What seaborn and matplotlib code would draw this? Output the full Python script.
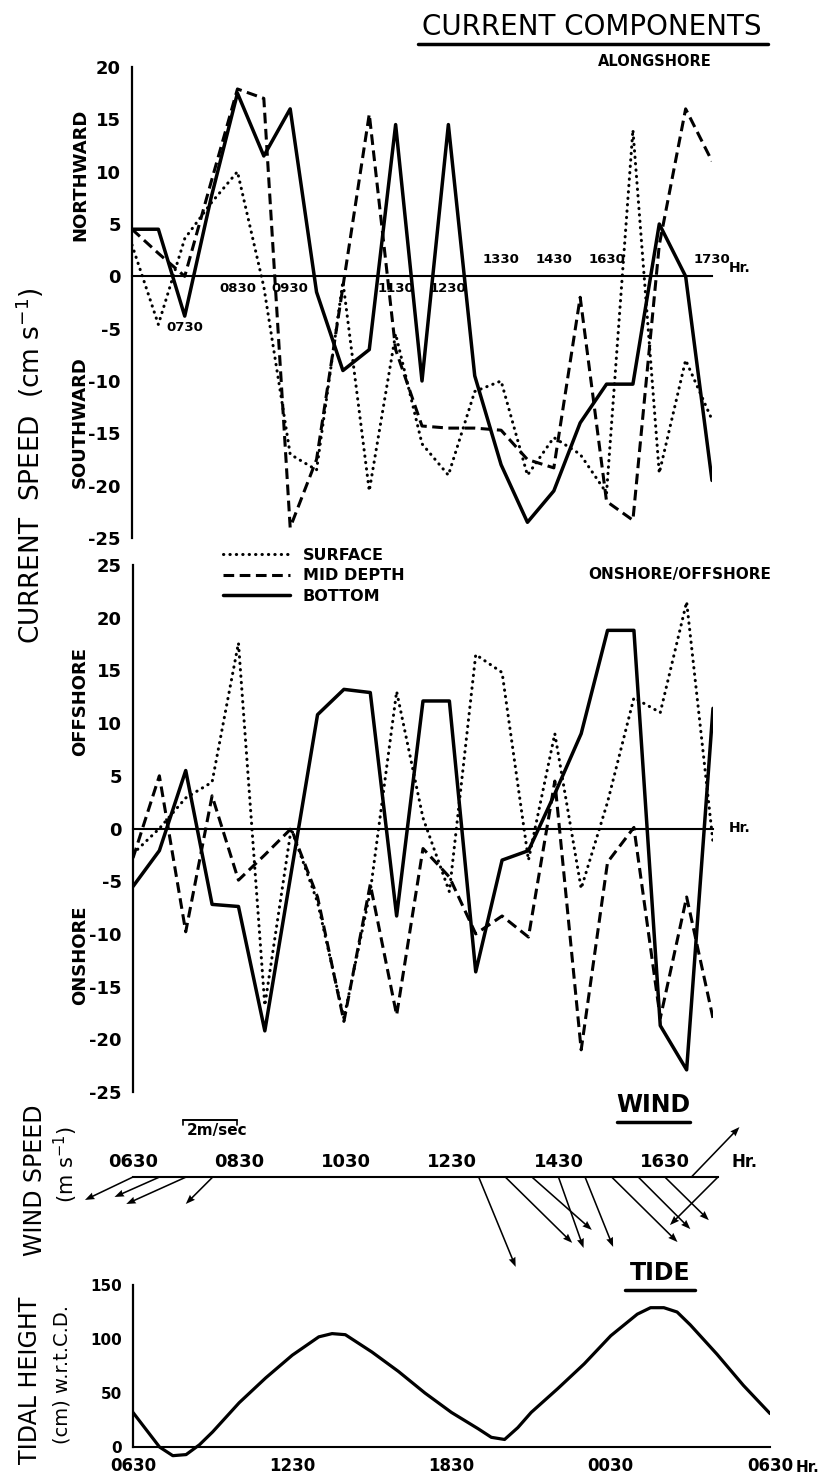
import matplotlib
matplotlib.use("Agg")
import matplotlib.pyplot as plt
import seaborn as sns
import numpy as np
import pandas as pd
from matplotlib.lines import Line2D

# ---- data ----
hours = [6.5, 7.0, 7.5, 8.0, 8.5, 9.0, 9.5, 10.0, 10.5, 11.0, 11.5, 12.0,
         12.5, 13.0, 13.5, 14.0, 14.5, 15.0, 15.5, 16.0, 16.5, 17.0, 17.5]

# alongshore component (cm/s), + = northward
surface_along = [3.0, -4.6, 3.6, 7.0, 10.0, -1.0, -17.0, -18.5, -0.5, -20.5, -5.5, -16.0,
                 -19.0, -11.0, -10.0, -19.0, -15.4, -17.0, -20.7, 14.0, -18.8, -8.0, -13.7]
mid_along = [4.5, 2.2, 0.0, 9.0, 17.9, 17.0, -24.0, -17.5, -1.0, 15.5, -7.0, -14.3,
             -14.5, -14.5, -14.7, -17.5, -18.3, -2.0, -21.5, -23.3, 3.0, 16.0, 11.0]
bottom_along = [4.5, 4.5, -3.8, 7.5, 17.5, 11.5, 16.0, -1.5, -9.0, -7.0, 14.5, -10.0,
                14.5, -9.5, -18.0, -23.5, -20.5, -14.0, -10.3, -10.3, 5.0, 0.0, -19.5]

# onshore/offshore component (cm/s), + = offshore
surface_on = [-2.4, 0.0, 2.9, 4.4, 17.6, -16.8, 0.0, -7.0, -18.0, -6.0, 13.0, 1.0,
              -6.0, 16.5, 14.8, -3.0, 9.0, -5.7, 2.5, 12.4, 11.0, 21.5, -1.3]
mid_on = [-2.8, 5.0, -9.8, 3.1, -4.9, -2.5, 0.0, -6.5, -18.3, -5.3, -17.7, -1.9,
          -4.6, -10.0, -8.3, -10.3, 4.5, -21.0, -3.2, 0.1, -18.0, -6.5, -18.0]
bottom_on = [-5.5, -2.1, 5.5, -7.2, -7.4, -19.2, -4.2, 10.8, 13.2, 12.9, -8.3, 12.1,
             12.1, -13.6, -3.0, -2.1, 3.3, 9.0, 18.8, 18.8, -18.7, -22.9, 11.4]

along_tick_hours = [8.5, 9.5, 11.5, 12.5, 13.5, 14.5, 15.5, 16.5, 17.5]
along_label_hours = [7.5, 8.5, 9.5, 11.5, 12.5, 13.5, 14.5, 15.5, 17.5]
along_labels = ["0730", "0830", "0930", "1130", "1230", "1330", "1430", "1630", "1730"]
along_label_dy = [-37, -9, -9, -9, -9, 12, 12, 12, 12]
on_tick_hours = [7.5, 8.5, 9.5, 10.5, 11.5, 12.5, 13.5, 14.5, 15.5, 16.5, 17.5]

# wind vectors (m/s)
wind_hours = [6.5, 7.0, 7.5, 8.0, 13.0, 13.5, 14.0, 14.5, 15.0, 15.5, 16.0, 16.5, 17.0, 17.5]
wind_east = [-1.78, -1.67, -2.22, -1.0, 1.37, 2.48, 2.22, 0.93, 1.04, 2.44, 1.93, 1.63, 1.78, -1.78]
wind_north = [-0.85, -0.74, -1.0, -1.0, -3.33, -2.44, -1.96, -2.63, -2.59, -2.41, -1.93, -1.6, 1.85, -1.78]
wind_tick_hours = [6.5, 7.0, 7.5, 8.0, 8.5, 9.0, 9.5, 10.0, 10.5, 11.0, 11.5, 12.0,
                   12.5, 13.0, 13.5, 14.0, 14.5, 15.0, 15.5, 16.0, 16.5, 17.0]
wind_label_hours = [6.5, 8.5, 10.5, 12.5, 14.5, 16.5]
wind_labels = ["0630", "0830", "1030", "1230", "1430", "1630"]

# tide (cm above chart datum), hours from 0630 day 1 to 0630 day 2
tide_hours = [6.5, 7.5, 8.0, 8.5, 9.0, 9.5, 10.5, 11.5, 12.5, 13.5, 14.0, 14.5, 15.5,
              16.5, 17.5, 18.5, 19.5, 20.0, 20.5, 21.0, 21.5, 22.5, 23.5, 24.5, 25.5,
              26.0, 26.5, 27.0, 27.5, 28.5, 29.5, 30.5]
tide_cm = [32, 0, -8, -7, 2, 14, 41, 64, 85, 102, 105, 104, 88,
           70, 50, 32, 17, 9, 7, 18, 32, 54, 77, 103, 123,
           129, 129, 125, 113, 86, 57, 31]
tide_tick_hours = [6.5, 8.5, 10.5, 12.5, 14.5, 16.5, 18.5, 20.5, 22.5, 24.5, 26.5, 28.5, 30.5]
tide_tick_labels = ["0630", "", "", "1230", "", "", "1830", "", "", "0030", "", "", "0630"]

# ---- style ----
sns.set_theme(style="white", rc={"axes.edgecolor": "black", "xtick.color": "black",
                                 "ytick.color": "black", "text.color": "black"})
plt.rcParams["font.family"] = ["DejaVu Sans"]
plt.rcParams["axes.unicode_minus"] = False

W, H = 829, 1479
fig = plt.figure(figsize=(W / 100, H / 100), dpi=100)


def box(l, t, r, b):
    return fig.add_axes([l / W, 1 - b / H, (r - l) / W, (b - t) / H])


def ftext(x, y, s, **kw):
    kw.setdefault("ha", "center")
    kw.setdefault("va", "center")
    return fig.text(x / W, 1 - y / H, s, **kw)


def fline(x0, x1, y, lw=2.2):
    fig.add_artist(Line2D([x0 / W, x1 / W], [1 - y / H, 1 - y / H], color="black", lw=lw))


styles = {
    "SURFACE": dict(linewidth=2.2, linestyle=(0, (0.1, 2.0)), dash_capstyle="round"),
    "MID DEPTH": dict(linewidth=2.2, linestyle=(0, (3.5, 1.8))),
    "BOTTOM": dict(linewidth=2.5, linestyle="-"),
}


def current_panel(ax, series, ylim, tick_hours):
    for name, vals in series.items():
        sns.lineplot(x=hours, y=vals, ax=ax, color="black", errorbar=None, **styles[name])
    ax.set_xlim(6.5, 17.5)
    ax.set_ylim(*ylim)
    ax.spines["top"].set_visible(False)
    ax.spines["right"].set_visible(False)
    ax.spines["bottom"].set_position(("data", 0))
    ax.spines["bottom"].set_linewidth(1.5)
    ax.spines["left"].set_linewidth(1.6)
    ax.set_xticks(tick_hours)
    ax.tick_params(axis="x", direction="in", length=7, width=1.3, labelbottom=False)
    ax.set_yticks(np.arange(ylim[0], ylim[1] + 1, 5))
    ax.tick_params(axis="y", direction="out", length=6, width=1.3, pad=2, labelsize=13)
    for lab in ax.get_yticklabels():
        lab.set_fontweight("bold")
    ax.set_xlabel("")
    ax.set_ylabel("")


# alongshore panel
ax1 = box(132, 67, 712, 538)
current_panel(ax1, {"SURFACE": surface_along, "MID DEPTH": mid_along, "BOTTOM": bottom_along},
              (-25, 20), along_tick_hours)
for h, lab, dy in zip(along_label_hours, along_labels, along_label_dy):
    ax1.annotate(lab, (h, 0), xytext=(0, dy), textcoords="offset points",
                 ha="center", va="center", fontsize=9.5, fontweight="bold")

# onshore/offshore panel
ax2 = box(133, 565, 713, 1092)
current_panel(ax2, {"SURFACE": surface_on, "MID DEPTH": mid_on, "BOTTOM": bottom_on},
              (-25, 25), on_tick_hours)
handles = [Line2D([], [], color="black", **styles[n]) for n in styles]
ax2.legend(handles, list(styles), loc="upper left", bbox_to_anchor=(0.13, 1.06),
           frameon=False, handlelength=4.2, labelspacing=0.35, handletextpad=0.8,
           prop={"weight": "bold", "size": 11.5})

# wind panel
ax3 = box(133, 1100, 718, 1280)
ax3.set_xlim(6.5, 17.5)
ax3.set_ylim(-(1280 - 1177) / 27, (1177 - 1100) / 27)
hr_per_ms = (27 / (585 / 11.0))
q = ax3.quiver(wind_hours, np.zeros(len(wind_hours)), np.array(wind_east) * hr_per_ms, wind_north,
               angles="xy", scale_units="xy", scale=1, color="black",
               width=0.0027, headwidth=4.5, headlength=6, headaxislength=5.5)
q.set_clip_on(False)
for s in ["top", "right", "left"]:
    ax3.spines[s].set_visible(False)
ax3.spines["bottom"].set_position(("data", 0))
ax3.spines["bottom"].set_linewidth(1.5)
ax3.set_xticks(wind_tick_hours)
ax3.set_yticks([])
ax3.tick_params(axis="x", direction="in", length=5, width=1.2, labelbottom=False)
for h, lab in zip(wind_label_hours, wind_labels):
    ax3.annotate(lab, (h, 0), xytext=(0, 11), textcoords="offset points",
                 ha="center", va="center", fontsize=13, fontweight="bold")
# 2 m/s scale bar
yb = (1177 - 1120) / 27
ax3.plot([7.44, 7.44 + 2 * hr_per_ms], [yb, yb], color="black", lw=1.4)
ax3.plot([7.44, 7.44], [yb, yb - 0.2], color="black", lw=1.2)
ax3.plot([7.44 + 2 * hr_per_ms] * 2, [yb, yb - 0.2], color="black", lw=1.2)
ax3.patch.set_alpha(0)

# tide panel
ax4 = box(133, 1285, 770, 1460)
sns.lineplot(x=tide_hours, y=tide_cm, ax=ax4, color="black", linewidth=2.3, errorbar=None)
ax4.set_xlim(6.5, 30.5)
ax4.set_ylim(-12, 150)
ax4.spines["top"].set_visible(False)
ax4.spines["right"].set_visible(False)
ax4.spines["bottom"].set_position(("data", 0))
ax4.spines["bottom"].set_linewidth(1.5)
ax4.spines["left"].set_linewidth(1.6)
ax4.spines["left"].set_bounds(0, 150)
ax4.set_xticks(tide_tick_hours, labels=tide_tick_labels)
ax4.tick_params(axis="x", direction="in", length=8, width=1.3, pad=7, labelsize=12)
ax4.set_yticks([0, 50, 100, 150])
ax4.tick_params(axis="y", direction="out", length=6, width=1.3, pad=2, labelsize=11)
for lab in ax4.get_xticklabels() + ax4.get_yticklabels():
    lab.set_fontweight("bold")
ax4.set_xlabel("")
ax4.set_ylabel("")
ax4.patch.set_alpha(0)

# ---- titles and side labels ----
ftext(592, 27, "CURRENT COMPONENTS", fontsize=20)
fline(418, 768, 44, lw=2.5)
ftext(655, 62, "ALONGSHORE", fontsize=10.5, fontweight="bold")
ftext(680, 575, "ONSHORE/OFFSHORE", fontsize=11, fontweight="bold")
ftext(80, 175, "NORTHWARD", rotation=90, fontsize=13, fontweight="bold")
ftext(80, 422, "SOUTHWARD", rotation=90, fontsize=13, fontweight="bold")
ftext(80, 702, "OFFSHORE", rotation=90, fontsize=13, fontweight="bold")
ftext(80, 955, "ONSHORE", rotation=90, fontsize=13, fontweight="bold")
ftext(30, 466, "CURRENT  SPEED  (cm s$^{-1}$)", rotation=90, fontsize=19)
for y in [268, 828]:
    ftext(740, y, "Hr.", fontsize=10, fontweight="bold")
ftext(745, 1162, "Hr.", fontsize=12, fontweight="bold")
ftext(808, 1468, "Hr.", fontsize=11, fontweight="bold")

ftext(653, 1105, "WIND", fontsize=17, fontweight="bold")
fline(617, 690, 1122, lw=2.5)
ftext(217, 1131, "2m/sec", fontsize=11, fontweight="bold")
ftext(35, 1180, "WIND SPEED", rotation=90, fontsize=17)
ftext(66, 1165, "(m s$^{-1}$)", rotation=90, fontsize=15)

ftext(660, 1273, "TIDE", fontsize=17, fontweight="bold")
fline(625, 695, 1290, lw=2.5)
ftext(30, 1380, "TIDAL HEIGHT", rotation=90, fontsize=17)
ftext(62, 1375, "(cm) w.r.t.C.D.", rotation=90, fontsize=14)

fig.savefig("out.png", dpi=100)
